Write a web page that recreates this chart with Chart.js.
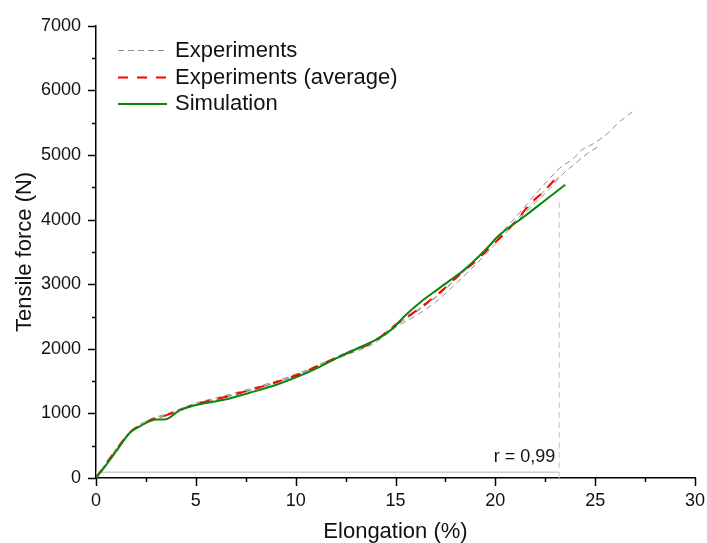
<!DOCTYPE html>
<html>
<head>
<meta charset="utf-8">
<script src="https://cdn.jsdelivr.net/npm/chart.js@4.4.1/dist/chart.umd.min.js"></script>
<style>
  html, body { margin: 0; padding: 0; background: #fff; }
  #wrap { width: 707px; height: 543px; position: relative; }
</style>
</head>
<body>
<div id="wrap"><canvas id="c" width="707" height="543"></canvas></div>
<script>
// ---------- data ----------
const seriesNames = ['Experiments', 'Experiments (average)', 'Simulation'];

const simX = [0, 0.5, 1.0, 1.7, 2.2, 2.7, 3.0, 3.5, 4.2, 5.0, 6.4, 7.7, 9.0, 10.2, 11.2, 12.2, 13.2, 14.2, 14.8, 15.5, 16.2, 17.2, 18.5, 19.5, 20.2, 21.5, 22.5, 23.5];
const simY = [0, 200, 410, 700, 800, 880, 905, 910, 1050, 1130, 1210, 1320, 1440, 1580, 1720, 1880, 2020, 2170, 2300, 2520, 2710, 2940, 3240, 3530, 3760, 4060, 4300, 4540];

const avgX = [0, 0.5, 1.0, 1.7, 2.2, 2.7, 3.5, 4.3, 5.0, 6.4, 7.7, 9.0, 10.2, 11.5, 12.5, 13.9, 15.0, 15.9, 16.6, 17.4, 18.1, 19.1, 19.7, 20.4, 21.1, 21.7, 22.4, 23.1];
const avgY = [0, 220, 430, 710, 810, 890, 970, 1060, 1140, 1250, 1360, 1480, 1610, 1790, 1920, 2110, 2370, 2560, 2720, 2920, 3120, 3380, 3560, 3770, 4000, 4230, 4430, 4660];

const expAX = [0, 0.5, 1.0, 1.7, 2.2, 2.7, 3.5, 4.3, 5.0, 6.4, 7.7, 9.0, 10.2, 11.5, 12.5, 13.9, 15.0, 16.0, 17.0, 18.0, 19.0, 20.0, 21.0, 22.0, 22.7, 23.2, 23.9, 24.3, 24.9, 25.6, 26.2, 26.9];
const expAY = [0, 230, 450, 720, 830, 910, 990, 1080, 1160, 1270, 1380, 1500, 1630, 1800, 1940, 2130, 2360, 2560, 2790, 3070, 3380, 3700, 4030, 4390, 4630, 4790, 4943, 5072, 5174, 5328, 5508, 5680];

const expBX = [0, 0.5, 1.0, 1.7, 2.2, 2.7, 3.5, 4.3, 5.0, 6.4, 7.7, 9.0, 10.2, 11.5, 12.5, 13.9, 15.0, 16.0, 17.0, 18.0, 19.0, 20.0, 21.0, 22.0, 22.7, 23.4, 23.9, 24.6, 25.1];
const expBY = [0, 210, 420, 700, 800, 880, 960, 1050, 1130, 1240, 1350, 1470, 1600, 1770, 1900, 2080, 2330, 2510, 2720, 3000, 3300, 3620, 3950, 4260, 4470, 4712, 4841, 5020, 5120];

const expCX = [0, 0.5, 1.0, 1.7, 2.2, 2.7, 3.5, 4.3, 5.0, 6.4, 7.7, 9.0, 10.2, 11.5, 12.5, 13.9, 15.0, 16.0, 17.0, 18.0, 19.0, 20.0, 21.0, 22.0, 22.7, 23.3];
const expCY = [0, 220, 430, 705, 805, 885, 975, 1060, 1140, 1250, 1360, 1480, 1610, 1790, 1920, 2110, 2380, 2580, 2800, 3070, 3370, 3680, 3980, 4300, 4520, 4700];

// reference guide lines
const hGuideX = [0, 23.2];
const hGuideY = [90, 90];
const vGuideX = [23.2, 23.2];
const vGuideY = [0, 4330];

const rLabel = 'r = 0,99';
const rLabelPos = [23.0, 320];

const xMajorTicks = [0, 5, 10, 15, 20, 25, 30];
const yMajorTicks = [0, 1000, 2000, 3000, 4000, 5000, 6000, 7000];
const xTitle = 'Elongation (%)';
const yTitle = 'Tensile force (N)';

// ---------- helpers ----------
function pts(xs, ys) { return xs.map((x, i) => ({ x: x, y: ys[i] })); }
const FONT = "'Liberation Sans', Arial, sans-serif";

const grayStyle = { borderColor: '#8f8f8f', borderWidth: 1, borderDash: [6, 4] };
const redStyle = { borderColor: '#ff0000', borderWidth: 2, borderDash: [10, 9] };
const greenStyle = { borderColor: '#0a860a', borderWidth: 2, borderDash: [] };

const common = { pointRadius: 0, fill: false, cubicInterpolationMode: 'monotone' };

const datasets = [
  Object.assign({ label: seriesNames[2], data: pts(simX, simY) }, common, greenStyle),
  Object.assign({ label: seriesNames[1], data: pts(avgX, avgY) }, common, redStyle),
  Object.assign({ label: seriesNames[0], data: pts(expAX, expAY) }, common, grayStyle),
  Object.assign({ label: seriesNames[0] + ' B', data: pts(expBX, expBY) }, common, grayStyle),
  Object.assign({ label: seriesNames[0] + ' C', data: pts(expCX, expCY) }, common, grayStyle),
  { label: 'hguide', data: pts(hGuideX, hGuideY), pointRadius: 0, borderColor: '#cfcfcf', borderWidth: 1.5, tension: 0 },
  { label: 'vguide', data: pts(vGuideX, vGuideY), pointRadius: 0, borderColor: '#c8c8c8', borderWidth: 1, borderDash: [6, 4], tension: 0 }
];

const overlayPlugin = {
  id: 'overlay',
  afterDraw(chart) {
    const ctx = chart.ctx;
    const xs = chart.scales.x, ys = chart.scales.y;
    const area = chart.chartArea;
    ctx.save();
    // tick marks (major + minor)
    ctx.strokeStyle = '#000';
    ctx.lineWidth = 1.5;
    for (let v = xs.min; v <= xs.max + 1e-9; v += 2.5) {
      const px = Math.round(xs.getPixelForValue(v)) + 0.5;
      const len = xMajorTicks.includes(v) ? 8 : 4;
      ctx.beginPath(); ctx.moveTo(px, area.bottom); ctx.lineTo(px, area.bottom + len); ctx.stroke();
    }
    for (let v = ys.min; v <= ys.max + 1e-9; v += 500) {
      const py = Math.round(ys.getPixelForValue(v)) + 0.5;
      const len = yMajorTicks.includes(v) ? 8 : 4;
      ctx.beginPath(); ctx.moveTo(area.left, py); ctx.lineTo(area.left - len, py); ctx.stroke();
    }
    // r label
    ctx.fillStyle = '#111';
    ctx.font = '18px ' + FONT;
    ctx.textAlign = 'right';
    ctx.textBaseline = 'middle';
    ctx.fillText(rLabel, xs.getPixelForValue(rLabelPos[0]), ys.getPixelForValue(rLabelPos[1]));
    // legend
    const legendItems = [
      { text: seriesNames[0], style: grayStyle },
      { text: seriesNames[1], style: redStyle },
      { text: seriesNames[2], style: greenStyle }
    ];
    const rows = [50.5, 77.5, 104];
    ctx.font = '22px ' + FONT;
    ctx.textAlign = 'left';
    legendItems.forEach((it, i) => {
      ctx.save();
      ctx.strokeStyle = it.style.borderColor;
      ctx.lineWidth = it.style.borderWidth;
      ctx.setLineDash(it.style.borderDash);
      ctx.beginPath(); ctx.moveTo(118, rows[i]); ctx.lineTo(167, rows[i]); ctx.stroke();
      ctx.restore();
      ctx.fillStyle = '#111';
      ctx.fillText(it.text, 175, rows[i]);
    });
    ctx.restore();
  }
};

new Chart(document.getElementById('c'), {
  type: 'line',
  data: { datasets: datasets },
  options: {
    responsive: false,
    animation: false,
    events: [],
    layout: { padding: { top: 23, right: 12, left: 0, bottom: 0 } },
    plugins: { legend: { display: false }, tooltip: { enabled: false } },
    scales: {
      x: {
        type: 'linear', min: 0, max: 30,
        grid: { display: false, drawTicks: false },
        border: { display: true, color: '#000', width: 1.5 },
        ticks: {
          stepSize: 5, padding: 12, color: '#111', maxRotation: 0,
          font: { family: FONT, size: 18 },
          callback: (v) => xMajorTicks.includes(v) ? String(v) : ''
        },
        title: { display: true, text: xTitle, color: '#111', font: { family: FONT, size: 22, lineHeight: 1 }, padding: { top: 0, bottom: 0 } },
        afterFit: (s) => { s.height = 65; s.paddingRight = 10; s.paddingLeft = 10; }
      },
      y: {
        type: 'linear', min: 0, max: 7000,
        grid: { display: false, drawTicks: false },
        border: { display: true, color: '#000', width: 1.5 },
        ticks: {
          stepSize: 1000, padding: 15, color: '#111',
          font: { family: FONT, size: 18 },
          callback: (v) => yMajorTicks.includes(v) ? String(v) : ''
        },
        title: { display: true, text: yTitle, color: '#111', font: { family: FONT, size: 22, lineHeight: 1 }, padding: { top: 14, bottom: 0 } },
        afterFit: (s) => { s.width = 96; }
      }
    }
  },
  plugins: [overlayPlugin]
});
</script>
</body>
</html>
